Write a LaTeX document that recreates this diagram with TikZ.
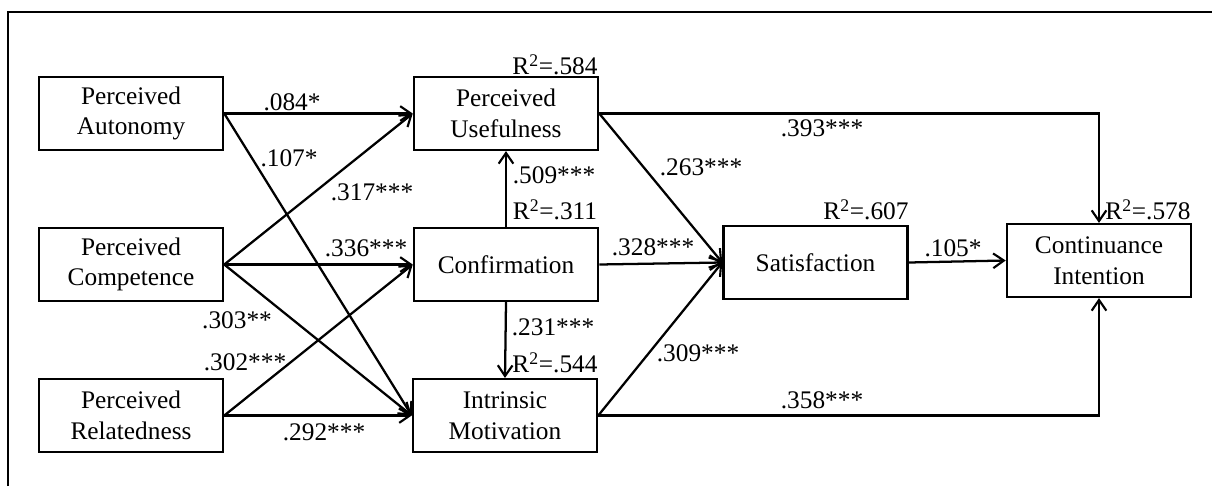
\documentclass[tikz,border=0pt]{standalone}
\usepackage{fontspec}
\setmainfont{Liberation Serif}
\usetikzlibrary{arrows.meta}

\begin{document}
\begin{tikzpicture}[x=0.75pt,y=-0.75pt,
  font=\fontsize{19}{23}\selectfont,
  box/.style={draw, line width=1.9pt, minimum width=138pt, minimum height=54.5pt, align=center, inner sep=2pt},
  path/.style={-{Straight Barb[length=8pt,width=11pt,line width=1.6pt]}, line width=1.7pt},
  coef/.style={inner sep=0pt}]
  \useasboundingbox (0,0) rectangle (1212,486);
  \draw[line width=2pt] (8,486) -- (8,12) -- (1212,12); % frame

  \node[box] (pa) at (131,113.5) {Perceived\\Autonomy};
  \node[box] (pc) at (131,264.5) {Perceived\\Competence};
  \node[box] (pr) at (131,415.5) {Perceived\\Relatedness};
  \node[box] (pu) at (506,113.5) {Perceived\\Usefulness};
  \node[box] (cf) at (506,264.5) {Confirmation};
  \node[box] (im) at (505,415.5) {Intrinsic\\Motivation};
  \node[box] (sa) at (815.5,262.5) {Satisfaction};
  \node[box] (ci) at (1099,260.5) {Continuance\\Intention};
  \coordinate (cu) at (ci.center |- pu.east);
  \coordinate (cd) at (ci.center |- im.east);

  \draw[path] (pa.east) -- (pu.west);
  \draw[path] (pa.east) -- (im.west);
  \draw[path] (pc.east) -- (pu.west);
  \draw[path] (pc.east) -- (cf.west);
  \draw[path] (pc.east) -- (im.west);
  \draw[path] (pr.east) -- (cf.west);
  \draw[path] (pr.east) -- (im.west);
  \draw[path] (cf.north) -- (pu.south);
  \draw[path] (cf.south) -- (im.north);
  \draw[path] (pu.east) -- (sa.west);
  \draw[path] (cf.east) -- (sa.west);
  \draw[path] (im.east) -- (sa.west);
  \draw[path] (sa.east) -- (ci.west);
  \draw[path] (pu.east) -- (cu) -- (ci.north);
  \draw[path] (im.east) -- (cd) -- (ci.south);

  % path coefficients
  \node[coef] (c084) at (292,102) {.084*};
  \node[coef] (c107) at (289,158) {.107*};
  \node[coef] (c317) at (372,192) {.317***};
  \node[coef] (c336) at (366,248) {.336***};
  \node[coef] (c303) at (237,320) {.303**};
  \node[coef] (c302) at (245,362) {.302***};
  \node[coef] (c292) at (324,432) {.292***};
  \node[coef] (c509) at (554,175) {.509***};
  \node[coef] (c231) at (553,327) {.231***};
  \node[coef] (c263) at (701,167) {.263***};
  \node[coef] (c328) at (653,247) {.328***};
  \node[coef] (c309) at (698,353) {.309***};
  \node[coef] (c105) at (953,248) {.105*};
  \node[coef] (c393) at (822,128) {.393***};
  \node[coef] (c358) at (822,400) {.358***};

  % explained variance
  \node[coef] (r584) at (555,65) {R\textsuperscript{2}=.584};
  \node[coef] (r311) at (555,210) {R\textsuperscript{2}=.311};
  \node[coef] (r544) at (555,363) {R\textsuperscript{2}=.544};
  \node[coef] (r607) at (866,210) {R\textsuperscript{2}=.607};
  \node[coef] (r578) at (1148,210) {R\textsuperscript{2}=.578};
\end{tikzpicture}
\end{document}
